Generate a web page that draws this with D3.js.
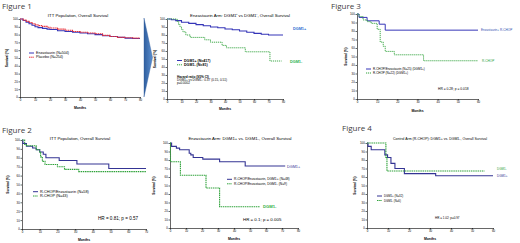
<!DOCTYPE html>
<html>
<head>
<meta charset="utf-8">
<script src="https://cdn.jsdelivr.net/npm/d3@7"></script>
<style>
	body { margin: 0; background: #fff; }
	svg { display: block; font-family: "Liberation Sans", Arial, sans-serif; }
	.figLabel { font-family: "Open Sans", sans-serif; font-size: 8px; fill: #404040; }
	.title { font-size: 4.3px; text-anchor: middle; }
	.months { font-size: 3.4px; font-weight: bold; text-anchor: middle; }
	.ylab { font-size: 3.2px; font-weight: bold; text-anchor: middle; }
</style>
</head>
<body>
<script>
// Kaplan-Meier steps: [month, survival %]
const ittEnza = [[0,100],[2,98],[4,96],[6,94],[8,92],[10,90],[12,89],[15,88],[18,87],[20,86.5],[25,85],[30,84],[35,83],[40,82],[45,81],[50,80],[55,78.5],[60,77.5],[65,76.5],[70,75.5],[75,75],[80,75]];
const ittPlacebo = [[0,100],[2,98.5],[4,97],[6,95.5],[8,94],[10,92.5],[12,91.5],[15,90.5],[18,89.5],[20,88.5],[25,87],[30,85.5],[35,84],[40,83],[45,82],[50,81],[55,79],[60,77.5],[65,76.5],[70,76],[75,75.5],[80,75.5]];

const enzaDgmPos = [[0,100],[3,99],[6,98],[10,96],[15,94.5],[20,93],[25,91.5],[30,90],[35,89],[40,87.5],[45,86.5],[50,85],[55,83.5],[60,82],[65,81],[70,80],[80,80]];
const enzaDgmNeg = [[0,100],[7,97],[8,93],[9,90],[10,87],[11,84],[13,80],[16,77],[26,74],[30,71],[38,67],[41,64],[54,59],[71,47.5],[79,47.5]];

const fig3Enza = [[0,100],[1,96],[5,92],[11,88],[14,81],[60,81]];
const fig3Rchop = [[0,100],[1,97],[3,93],[5,91],[7,89],[10,82],[11.5,67],[13,62],[14,56],[18.5,52],[33,45],[60,45]];

const fig2Enza = [[0,100],[0.5,96],[2.5,93],[6,91],[8,89],[10,86.5],[12,84],[13.5,80],[21,77],[31,73],[49,68],[70,68]];
const fig2Rchop = [[0,100],[1.5,95],[2.5,93.5],[8,89],[10,86],[10.5,81],[11.5,76],[13,72.5],[20,70],[24,67],[32,64.5],[70,64.5]];

const fig2DgmPos = [[0,100],[1,96],[4,94],[6,92],[12,88],[13,86],[14.5,83],[20.5,81],[31,78],[47,73],[72,73]];
const fig2DgmNeg = [[0,100],[0.3,78],[6.5,62],[22.5,47],[31,25],[56,25]];

const fig4DgmPos = [[0,100],[0.5,96],[2,92],[8.5,86],[9.8,83],[11.4,76],[13.3,70],[17.8,64],[32.7,61.5],[60,61.5]];
const fig4DgmNeg = [[0,100],[9,83],[9.5,67],[56,67]];

const yTicks = d3.range(0, 101, 10);

const svg = d3.select('body').append('svg').attr('width', 520).attr('height', 243);

const BLUE = '#3535b8', NAVY = '#343494', RED = '#e8303a', GREEN = '#2fa23a';

function panel(p) {
	const x = d3.scaleLinear().domain([0, p.xmax]).range([p.x0, p.x1]);
	const y = d3.scaleLinear().domain([0, 100]).range([p.y1, p.y0]);
	const g = svg.append('g');

	g.append('g')
		.attr('transform', `translate(0,${p.y1})`)
		.call(d3.axisBottom(x).tickValues(d3.range(0, p.xmax + 1, 10)).tickSize(1.5).tickPadding(0.8).tickSizeOuter(0))
		.attr('font-size', p.tickFont || 2.8).attr('font-family', null)
		.call(a => a.selectAll('path,line').attr('stroke-width', 0.6));

	g.append('g')
		.attr('transform', `translate(${p.x0},0)`)
		.call(d3.axisLeft(y).tickValues(yTicks).tickSize(1.5).tickPadding(0.8).tickSizeOuter(0))
		.attr('font-size', p.tickFont || 2.8).attr('font-family', null)
		.call(a => a.selectAll('path,line').attr('stroke-width', 0.6));

	if (p.title) {
		g.append('text').attr('class', 'title')
			.attr('x', p.titleX).attr('y', p.titleY)
			.style('font-size', (p.titleFont || 4.3) + 'px')
			.text(p.title);
	}
	g.append('text').attr('class', 'months')
		.attr('x', (p.x0 + p.x1) / 2 + (p.monthsDx || 0)).attr('y', p.monthsY).text('Months');
	g.append('text').attr('class', 'ylab')
		.attr('transform', `translate(${p.ylabX},${(p.y0 + p.y1) / 2}) rotate(-90)`)
		.text('Survival (%)');

	const line = d3.line().x(d => x(d[0])).y(d => y(d[1])).curve(d3.curveStepAfter);

	p.series.forEach(s => {
		g.append('path')
			.datum(s.data)
			.attr('fill', 'none')
			.attr('stroke', s.color)
			.attr('stroke-width', s.width || 0.9)
			.attr('stroke-dasharray', s.dash || null)
			.attr('d', line);
	});

	// legend
	p.series.forEach((s, i) => {
		const ly = p.legY + i * p.legStep;
		g.append('line')
			.attr('x1', p.legX).attr('x2', p.legX + 5)
			.attr('y1', ly).attr('y2', ly)
			.attr('stroke', s.color).attr('stroke-width', 1)
			.attr('stroke-dasharray', s.dash || null);
		g.append('text')
			.attr('x', p.legX + 7).attr('y', ly + 1.1)
			.style('font-size', (p.legFont || 3.6) + 'px')
			.style('font-weight', p.legBold ? 'bold' : null)
			.text(s.name);
	});

	(p.labels || []).forEach(l => {
		g.append('text')
			.attr('x', l.x).attr('y', l.y)
			.attr('fill', l.color || '#000')
			.style('font-size', l.size + 'px')
			.style('font-weight', l.bold ? 'bold' : null)
			.text(l.text);
	});
}

// figure labels
[['Figure 1', 2, 9], ['Figure 3', 331, 9], ['Figure 2', 2, 133], ['Figure 4', 342, 131]].forEach(f => {
	svg.append('text').attr('class', 'figLabel').attr('x', f[1]).attr('y', f[2]).text(f[0]);
});

// arrow between figure 1 panels
svg.append('defs').append('linearGradient').attr('id', 'arrowGrad')
	.attr('x1', 0).attr('x2', 1).attr('y1', 0).attr('y2', 0)
	.selectAll('stop').data(['#2f5e9e', '#5b8fd0']).enter().append('stop')
	.attr('offset', (d, i) => i * 100 + '%').attr('stop-color', d => d);
svg.append('path')
	.attr('d', 'M144,18 L152.5,57.5 L144,97 Z')
	.attr('fill', 'url(#arrowGrad)').attr('stroke', '#2f5e9e').attr('stroke-width', 0.4);

panel({
	x0: 20, x1: 140, y0: 19, y1: 97, xmax: 80,
	title: 'ITT Population, Overall Survival', titleX: 78, titleY: 16.5,
	monthsY: 108.5, ylabX: 7.5,
	legX: 29, legY: 53, legStep: 4.2, legFont: 3.6,
	series: [
		{ name: 'Enzastaurin (N=504)', data: ittEnza, color: BLUE, width: 1.1 },
		{ name: 'Placebo (N=254)', data: ittPlacebo, color: RED, width: 1.1, dash: '1.5,0.6' }
	]
});

panel({
	x0: 167, x1: 283, y0: 19, y1: 99, xmax: 80,
	title: 'Enzastaurin Arm: DGM1\u207A vs DGM1\u207B, Overall Survival', titleX: 240, titleY: 16.5,
	monthsY: 109.5, ylabX: 156,
	legX: 177, legY: 60.5, legStep: 4.3, legFont: 3.6, legBold: true,
	series: [
		{ name: 'DGM1+ (N=417)', data: enzaDgmPos, color: BLUE, width: 1.1 },
		{ name: 'DGM1- (N=81)', data: enzaDgmNeg, color: GREEN, dash: '1.2,0.8' }
	],
	labels: [
		{ text: 'DGM1+', x: 293, y: 30, size: 3.8, bold: true, color: '#2a6ad0' },
		{ text: 'DGM1-', x: 290, y: 62.5, size: 3.8, bold: true, color: '#27b04a' },
		{ text: 'Hazard ratio (95% CI)', x: 177, y: 77.5, size: 3.2, bold: true },
		{ text: 'DGM1+ vs DGM1-: 0.37 (0.15, 0.51)', x: 177, y: 80.8, size: 3.1 },
		{ text: 'p=0.0002', x: 177, y: 84.1, size: 3.1 }
	]
});

panel({
	x0: 357, x1: 478, y0: 14, y1: 99, xmax: 60,
	monthsY: 111.5, ylabX: 347,
	legX: 366, legY: 69, legStep: 4, legFont: 3,
	series: [
		{ name: 'R-CHOP/Enzastaurin (N=25) (DGM1+)', data: fig3Enza, color: BLUE, width: 1 },
		{ name: 'R-CHOP (N=22) (DGM1+)', data: fig3Rchop, color: GREEN, dash: '1.2,0.8' }
	],
	labels: [
		{ text: 'Enzastaurin+ R-CHOP', x: 481, y: 31.2, size: 3.1, color: '#3050b0' },
		{ text: 'R-CHOP', x: 482, y: 62.2, size: 3.1, color: '#27a040' },
		{ text: 'HR = 0.28; p = 0.018', x: 438, y: 90.2, size: 3.3 }
	]
});

panel({
	x0: 22, x1: 146, y0: 140, y1: 229, xmax: 70,
	title: 'ITT Population, Overall Survival', titleX: 80, titleY: 139.5,
	monthsY: 240.5, ylabX: 8.5,
	legX: 33, legY: 191.7, legStep: 4.3, legFont: 3.8,
	series: [
		{ name: 'R-CHOP/Enzastaurin (N=58)', data: fig2Enza, color: NAVY, width: 1.1 },
		{ name: 'R-CHOP (N=43)', data: fig2Rchop, color: GREEN, width: 1.1, dash: '1.5,0.7' }
	],
	labels: [
		{ text: 'HR = 0.81; p = 0.57', x: 98, y: 220, size: 4.6 }
	]
});

panel({
	x0: 170, x1: 298, y0: 143, y1: 228, xmax: 80,
	title: 'Enzastaurin Arm: DGM1+ vs. DGM1-, Overall Survival', titleX: 240, titleY: 140,
	monthsY: 239.5, ylabX: 155,
	legX: 227, legY: 179.3, legStep: 4.5, legFont: 3.3,
	series: [
		{ name: 'R-CHOP/Enzastaurin, DGM1+ (N=48)', data: fig2DgmPos, color: NAVY, width: 1.1 },
		{ name: 'R-CHOP/Enzastaurin, DGM1- (N=9)', data: fig2DgmNeg, color: GREEN, width: 1.1, dash: '1.5,0.7' }
	],
	labels: [
		{ text: 'DGM1+', x: 287, y: 167.5, size: 3.8, color: NAVY },
		{ text: 'DGM1-', x: 263, y: 207.8, size: 4.2, bold: true, color: '#2fb040' },
		{ text: 'HR = 0.1; p = 0.005', x: 243, y: 220.5, size: 4.4 }
	]
});

panel({
	x0: 367, x1: 493, y0: 143, y1: 228, xmax: 60,
	title: 'Control Arm (R-CHOP): DGM1+ vs. DGM1-, Overall Survival', titleX: 440, titleY: 140.3, titleFont: 3.5,
	monthsY: 239.5, ylabX: 356,
	legX: 377, legY: 196, legStep: 4.5, legFont: 2.8,
	series: [
		{ name: 'DGM1+ (N=32)', data: fig4DgmPos, color: NAVY, width: 1.1 },
		{ name: 'DGM1- (N=6)', data: fig4DgmNeg, color: GREEN, width: 1.1, dash: '1.5,0.7' }
	],
	labels: [
		{ text: 'DGM1-', x: 497, y: 170.3, size: 3, color: '#2fa23a' },
		{ text: 'DGM1+', x: 497, y: 177, size: 3, color: NAVY },
		{ text: 'HR = 1.02; p=0.97', x: 435, y: 219, size: 3 }
	]
});
</script>
</body>
</html>
